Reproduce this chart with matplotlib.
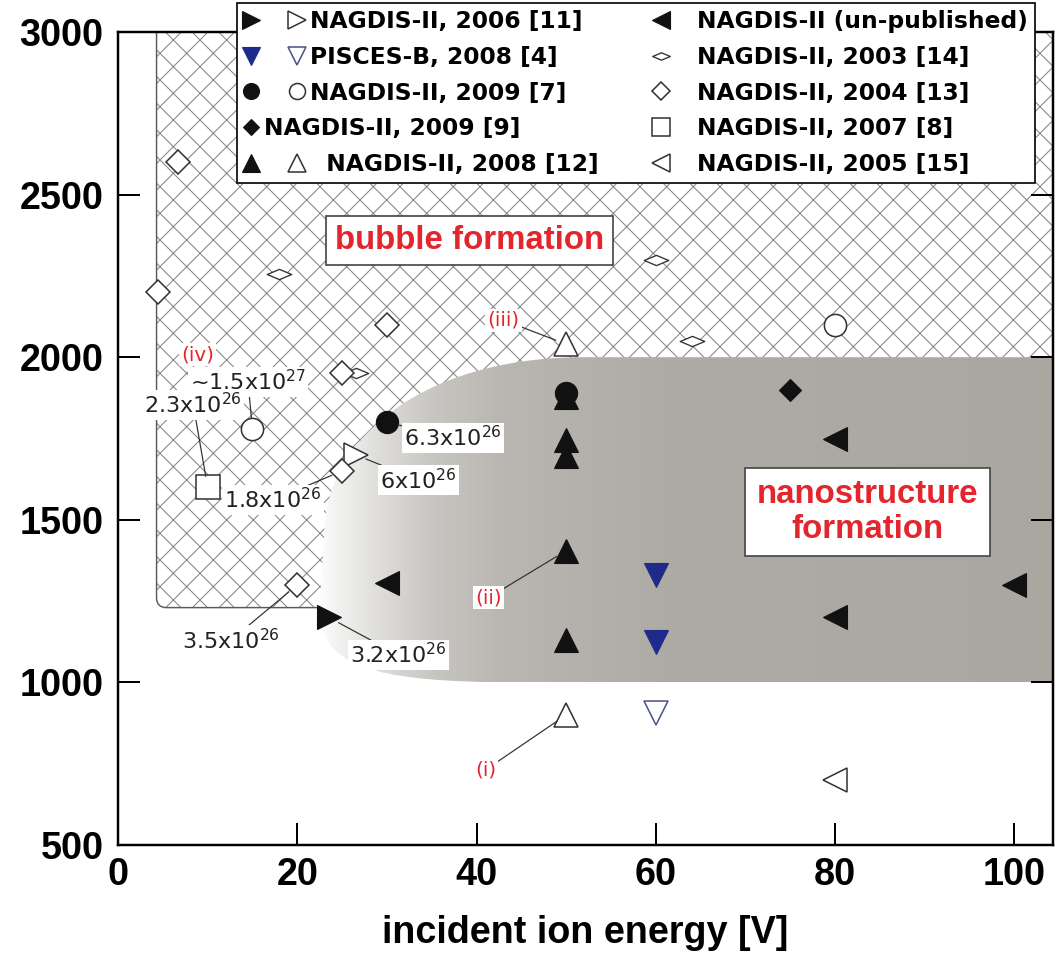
import matplotlib.pyplot as plt
import matplotlib as mpl
import matplotlib.transforms as mtransforms
import numpy as np
from matplotlib.patches import FancyBboxPatch, PathPatch
from matplotlib.path import Path
from matplotlib.colors import LinearSegmentedColormap
from matplotlib.legend_handler import HandlerTuple
from matplotlib.lines import Line2D

mpl.rcParams['font.family'] = 'Liberation Sans'
mpl.rcParams['mathtext.default'] = 'regular'
mpl.rcParams['hatch.linewidth'] = 1.0

# points: incident ion energy [V], surface temperature [K]
x2006_f, y2006_f = [23.5], [1200]
x2006_o, y2006_o = [26.5], [1700]
xpis_f, ypis_f = [60, 60], [1330, 1125]
xpis_o, ypis_o = [60], [905]
x2009a_f, y2009a_f = [30, 50], [1800, 1890]
x2009a_o, y2009a_o = [15, 80], [1780, 2100]
x2009b, y2009b = [75], [1900]
x2008_f, y2008_f = [50, 50, 50, 50, 50], [1878, 1745, 1695, 1405, 1130]
x2008_o, y2008_o = [50, 50], [2040, 900]
xunpub, yunpub = [30, 80, 80, 100], [1305, 1750, 1200, 1300]
x2003, y2003 = [18, 26.5, 60, 64], [2255, 1952, 2300, 2050]
x2004, y2004 = [4.5, 6.7, 30, 25, 25, 20], [2200, 2600, 2100, 1950, 1650, 1300]
x2007, y2007 = [10], [1600]
x2005, y2005 = [80], [700]

# fluence labels
ann_text = ['~1.5x10$^{27}$', '2.3x10$^{26}$', '1.8x10$^{26}$', '6x10$^{26}$',
            '6.3x10$^{26}$', '3.2x10$^{26}$', '3.5x10$^{26}$']
ann_xy = [(15, 1780), (10, 1600), (25, 1650), (26.5, 1700), (30, 1800),
          (23.5, 1200), (20, 1300)]
ann_pos = [(14.5, 1924), (8.4, 1853), (17.3, 1561), (33.5, 1622),
           (37.4, 1752), (31.3, 1084), (12.6, 1130)]

roman = ['(i)', '(ii)', '(iii)']
roman_xy = [(50, 900), (50, 1405), (50, 2040)]
roman_pos = [(41, 731), (41.3, 1260), (43, 2114)]

red = '#e3262e'
DPI = 80
fig = plt.figure(figsize=(1056 / DPI, 969 / DPI), dpi=DPI)
ax = fig.add_axes([118 / 1056, 1 - 845 / 969, (1053 - 118) / 1056, (845 - 32) / 969])

# bubble region (cross hatched)
hatch_box = FancyBboxPatch((4.3, 1230), 120, 2000,
                           boxstyle='round,pad=0,rounding_size=1.1',
                           mutation_aspect=27.5, fc='white', ec='#8c8c8c',
                           hatch='x', lw=0, zorder=1)
ax.add_patch(hatch_box)
ax.add_patch(FancyBboxPatch((4.3, 1230), 120, 2000,
                            boxstyle='round,pad=0,rounding_size=1.1',
                            mutation_aspect=27.5, fill=False, ec='#5a5a5a',
                            lw=1.3, zorder=1.1))

# nanostructure region (grey gradient)
verts = [(110, 2000), (52, 2000), (34, 2000), (23, 1750), (23, 1450),
         (22.5, 1250), (22, 1050), (28, 1000), (45, 1000), (110, 1000), (110, 2000)]
codes = [Path.MOVETO, Path.LINETO, Path.CURVE4, Path.CURVE4, Path.CURVE4,
         Path.LINETO, Path.CURVE4, Path.CURVE4, Path.CURVE4, Path.LINETO, Path.CLOSEPOLY]
nano_patch = PathPatch(Path(verts, codes), fc='none', ec='none', transform=ax.transData)
ax.add_patch(nano_patch)
stops = np.array([22, 24, 29.5, 35, 42.5, 60, 104.3])
cols = ['#ffffff', '#f3f3f2', '#dcdbd8', '#c8c6c2', '#bab7b2', '#afaca6', '#aaa7a1']
cmap = LinearSegmentedColormap.from_list(
    'g', list(zip((stops - stops[0]) / (stops[-1] - stops[0]), cols)))
gx = np.linspace(22, 104.3, 500)
im = ax.imshow(gx[None, :], extent=[22, 104.3, 1000, 2000], aspect='auto',
               cmap=cmap, vmin=22, vmax=104.3, zorder=1.5, interpolation='bilinear')
im.set_clip_path(nano_patch)

flat_d = Path([(-1, 0), (0, 0.42), (1, 0), (0, -0.42), (-1, 0)],
              [Path.MOVETO, Path.LINETO, Path.LINETO, Path.LINETO, Path.CLOSEPOLY])

k = '#111111'
op = dict(ls='none', mfc='white', mec='#333333', mew=1.4, zorder=3)
fp = dict(ls='none', mfc=k, mec=k, zorder=3)
h2006f, = ax.plot(x2006_f, y2006_f, marker='>', ms=22, **fp)
h2006o, = ax.plot(x2006_o, y2006_o, marker='>', ms=22, **op)
hpisf, = ax.plot(xpis_f, ypis_f, marker='v', ms=22, ls='none', mfc='#1e2b8a',
                 mec='#1e2b8a', zorder=3)
hpiso, = ax.plot(xpis_o, ypis_o, marker='v', ms=22, ls='none', mfc='white',
                 mec='#4b5285', mew=1.4, zorder=3)
h2008f, = ax.plot(x2008_f, y2008_f, marker='^', ms=22, **fp)
h2008o, = ax.plot(x2008_o, y2008_o, marker='^', ms=22, **op)
h2009af, = ax.plot(x2009a_f, y2009a_f, marker='o', ms=20, **fp)
h2009ao, = ax.plot(x2009a_o, y2009a_o, marker='o', ms=20, **op)
h2009b, = ax.plot(x2009b, y2009b, marker='D', ms=14, **fp)
hunpub, = ax.plot(xunpub, yunpub, marker='<', ms=22, **fp)
h2003, = ax.plot(x2003, y2003, marker=flat_d, ms=22, ls='none', mfc='white',
                 mec='#333333', mew=1.2, zorder=3)
h2004, = ax.plot(x2004, y2004, marker='D', ms=15.5, **op)
h2007, = ax.plot(x2007, y2007, marker='s', ms=22, **op)
h2005, = ax.plot(x2005, y2005, marker='<', ms=22, **op)
blank = Line2D([], [], ls='none', marker='D', mfc='none', mec='none')

for t, xy, pos in zip(ann_text, ann_xy, ann_pos):
    ax.annotate(t, xy=xy, xytext=pos, ha='center', va='center', fontsize=20,
                family='DejaVu Sans', color='#222222', zorder=3.5,
                bbox=dict(boxstyle='square,pad=0.1', fc='white', ec='none'),
                arrowprops=dict(arrowstyle='-', color='#333333', lw=1.1,
                                shrinkA=0, shrinkB=10))
for t, xy, pos in zip(roman, roman_xy, roman_pos):
    ax.annotate(t, xy=xy, xytext=pos, ha='center', va='center', fontsize=18,
                family='DejaVu Sans', color=red, zorder=3.5,
                bbox=dict(boxstyle='square,pad=0.1', fc='white', ec='none'),
                arrowprops=dict(arrowstyle='-', color='#333333', lw=1.1,
                                shrinkA=0, shrinkB=10))
ax.text(8.9, 2007, '(iv)', ha='center', va='center', fontsize=18,
        family='DejaVu Sans', color=red, zorder=3.5,
        bbox=dict(boxstyle='square,pad=0.1', fc='white', ec='none'))

box = dict(boxstyle='square,pad=0.27', fc='white', ec='#444444', lw=1.5)
ax.text(39.2, 2360, 'bubble formation', ha='center', va='center', color=red,
        fontsize=29.7, fontweight='bold', bbox=box, zorder=4)
ax.text(83.6, 1524, 'nanostructure\nformation', ha='center', va='center',
        color=red, fontsize=29.7, fontweight='bold', linespacing=1.15,
        bbox=dict(box, boxstyle='square,pad=0.35'), zorder=4)

ax.set_xlim(0, 104.3)
ax.set_ylim(500, 3000)
ax.set_xticks(np.arange(0, 101, 20))
ax.set_yticks(np.arange(500, 3001, 500))
ax.tick_params(direction='in', length=20, width=1.8, top=True, right=True,
               labelsize=34)
ax.tick_params(axis='x', pad=11)
ax.tick_params(axis='y', pad=13)
for lab in ax.get_xticklabels() + ax.get_yticklabels():
    lab.set_fontweight('bold')
for sp in ax.spines.values():
    sp.set_linewidth(2.2)
    sp.set_zorder(4.5)
ax.set_xlabel('incident ion energy [V]', fontsize=34, fontweight='bold', labelpad=20)

handles = [(h2006f, h2006o), (hpisf, hpiso), (h2009af, h2009ao), (h2009b, blank),
           (h2008f, h2008o), hunpub, h2003, h2004, h2007, h2005]
labels = ['NAGDIS-II, 2006 [11]', 'PISCES-B, 2008 [4]', 'NAGDIS-II, 2009 [7]',
          'NAGDIS-II, 2009 [9]', '  NAGDIS-II, 2008 [12]',
          'NAGDIS-II (un-published)', 'NAGDIS-II, 2003 [14]', 'NAGDIS-II, 2004 [13]',
          'NAGDIS-II, 2007 [8]', 'NAGDIS-II, 2005 [15]']
leg = ax.legend(handles, labels, ncol=2, loc='upper left',
                bbox_to_anchor=(237 / 1056, 1 - 3 / 969), bbox_transform=fig.transFigure,
                handler_map={tuple: HandlerTuple(ndivide=None, pad=1.3)},
                prop={'family': 'DejaVu Sans', 'weight': 'bold', 'size': 21},
                handlelength=2.57, handletextpad=0.25, columnspacing=1.4,
                labelspacing=0.55, borderpad=0.3, borderaxespad=0,
                markerscale=0.72, fancybox=False, framealpha=1, edgecolor='black')
leg.get_frame().set_linewidth(1.5)
leg.set_zorder(6)
# the single-marker entry sits right next to its diamond
t9 = leg.get_texts()[3]
t9.set_transform(t9.get_transform() + mtransforms.Affine2D().translate(-46, 0))

fig.savefig('out.png', dpi=DPI)
